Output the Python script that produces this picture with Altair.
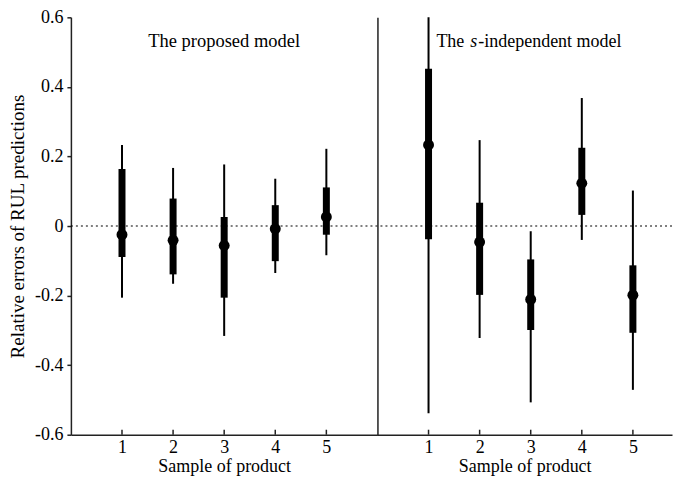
import altair as alt
import pandas as pd

samples = [1, 2, 3, 4, 5]

# The proposed model
prop_whisker_low = [-0.206, -0.166, -0.316, -0.135, -0.084]
prop_whisker_high = [0.233, 0.167, 0.177, 0.136, 0.222]
prop_box_low = [-0.089, -0.139, -0.206, -0.101, -0.025]
prop_box_high = [0.164, 0.079, 0.026, 0.060, 0.111]
prop_median = [-0.025, -0.041, -0.056, -0.008, 0.026]

# The s-independent model
sind_whisker_low = [-0.538, -0.322, -0.507, -0.040, -0.471]
sind_whisker_high = [0.600, 0.247, -0.015, 0.368, 0.102]
sind_box_low = [-0.038, -0.198, -0.299, 0.032, -0.307]
sind_box_high = [0.452, 0.067, -0.096, 0.225, -0.113]
sind_median = [0.233, -0.046, -0.211, 0.123, -0.199]

y_ticks = [-0.6, -0.4, -0.2, 0, 0.2, 0.4, 0.6]

H = 418
FONT = "Liberation Serif"


def make_df(wl, wh, bl, bh, md):
    return pd.DataFrame({"sample": samples, "wlo": wl, "whi": wh,
                         "qlo": bl, "qhi": bh, "med": md})


def panel(df, xmax, width, left):
    xs = alt.Scale(domain=[0, xmax], nice=False, zero=False)
    ys = alt.Scale(domain=[-0.6, 0.6], nice=False, zero=False)
    xaxis = alt.Axis(values=samples, format="d", title="Sample of product",
                     tickSize=0, ticks=False, labelPadding=4, titlePadding=1,
                     labelFlush=False, grid=False)
    if left:
        yaxis = alt.Axis(values=y_ticks, labelExpr="'' + datum.value",
                         title="Relative errors of RUL predictions",
                         titleFontSize=19,
                         tickSize=4, labelPadding=4, titlePadding=7, grid=False)
    else:
        yaxis = alt.Axis(title=None, labels=False, ticks=False, grid=False)

    base = alt.Chart(df)
    whisk = base.mark_rule(color="black", strokeWidth=2).encode(
        x=alt.X("sample:Q", scale=xs, axis=xaxis),
        y=alt.Y("wlo:Q", scale=ys, axis=yaxis),
        y2="whi:Q",
    )
    box = base.mark_rule(color="black", strokeWidth=7).encode(
        x="sample:Q", y="qlo:Q", y2="qhi:Q")
    med = base.mark_point(filled=True, color="black", size=120, opacity=1).encode(
        x="sample:Q", y="med:Q")
    ticks = base.mark_rule(color="#222", strokeWidth=1.5).encode(
        x="sample:Q", y=alt.value(H - 5), y2=alt.value(H))
    zero = alt.Chart(pd.DataFrame({"z": [0]})).mark_rule(
        color="black", strokeWidth=1.2, strokeDash=[2, 3]).encode(y="z:Q")

    one = alt.Chart(pd.DataFrame({"k": [0]}))
    if left:
        titles = [one.mark_text(font=FONT, fontSize=18.5, color="black",
                                align="center", baseline="alphabetic").encode(
            x=alt.datum(3), y=alt.datum(0.515), text=alt.value("The proposed model"))]
    else:
        titles = [
            one.mark_text(font=FONT, fontSize=18, color="black", align="right",
                          baseline="alphabetic", dx=-66.5).encode(
                x=alt.datum(3), y=alt.datum(0.515), text=alt.value("The")),
            one.mark_text(font=FONT, fontSize=18, color="black", align="left",
                          fontStyle="italic", baseline="alphabetic", dx=-60.5).encode(
                x=alt.datum(3), y=alt.datum(0.515), text=alt.value("s")),
            one.mark_text(font=FONT, fontSize=18, color="black", align="left",
                          baseline="alphabetic", dx=-52.5).encode(
                x=alt.datum(3), y=alt.datum(0.515), text=alt.value("-independent model")),
        ]
    return alt.layer(whisk, zero, box, med, ticks, *titles).properties(
        width=width, height=H)


left = panel(make_df(prop_whisker_low, prop_whisker_high, prop_box_low,
                     prop_box_high, prop_median), 6, 307, True)
right = panel(make_df(sind_whisker_low, sind_whisker_high, sind_box_low,
                      sind_box_high, sind_median), 295 / 307 * 6, 295, False)

chart = alt.hconcat(left, right, spacing=0, bounds="flush").properties(
    padding={"left": 0, "top": 0, "right": 0, "bottom": 0}
).configure(font=FONT).configure_view(strokeWidth=0).configure_axis(
    labelFont=FONT, titleFont=FONT, labelFontSize=18, titleFontSize=18,
    labelColor="black", titleColor="black", titleFontWeight="normal",
    domainColor="#222", domainWidth=1.5, tickColor="#222", tickWidth=1.5,
)

chart.save("out.html", embed_options={"renderer": "svg", "actions": False})
